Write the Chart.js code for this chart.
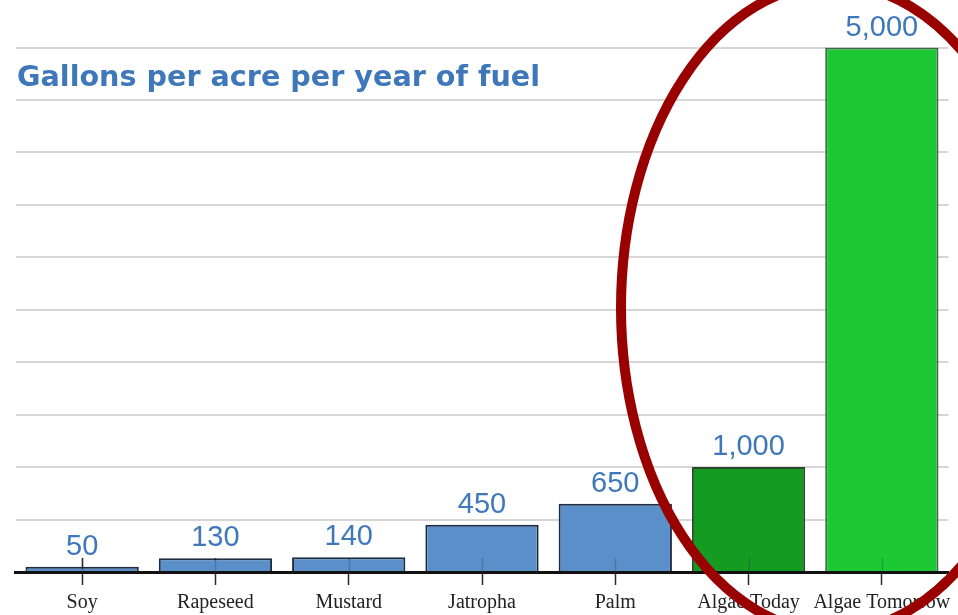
<!DOCTYPE html>
<html>
<head>
<meta charset="utf-8">
<script src="https://cdn.jsdelivr.net/npm/chart.js@4/dist/chart.umd.min.js"></script>
<style>
  html, body { margin: 0; padding: 0; background: #ffffff; }
  #wrap { width: 958px; height: 615px; }
</style>
</head>
<body>
<div id="wrap"><canvas id="c" width="958" height="615"></canvas></div>
<script>
// Fuel crops and their yield
const categories = ['Soy', 'Rapeseed', 'Mustard', 'Jatropha', 'Palm', 'Algae Today', 'Algae Tomorrow'];
const gallonsPerAcre = [50, 130, 140, 450, 650, 1000, 5000];
const valueLabels = ['50', '130', '140', '450', '650', '1,000', '5,000'];
const yAxisMin = 0;
const yAxisMax = 5000;
const yAxisStep = 500;

const titleText = 'Gallons per acre per year of fuel';

// styling
const barFill = ['#5b8fca', '#5b8fca', '#5b8fca', '#5b8fca', '#5b8fca', '#159a22', '#1cc934'];
const barEdge = ['#1e2c40', '#1e2c40', '#1e2c40', '#1e2c40', '#1e2c40', '#2c4a2c', '#3f6a45'];
const labelBlue = '#3f78ba';

function drawCenterTicks(chart, color) {
  const { ctx, scales: { x }, chartArea } = chart;
  ctx.save();
  ctx.strokeStyle = color;
  ctx.lineWidth = 1.5;
  categories.forEach((_, i) => {
    const px = Math.round(x.getPixelForValue(i)) + 0.5;
    ctx.beginPath();
    ctx.moveTo(px, chartArea.bottom - 14);
    ctx.lineTo(px, chartArea.bottom);
    ctx.stroke();
  });
  ctx.restore();
}

const overlay = {
  id: 'overlay',
  beforeDatasetsDraw(chart) {
    drawCenterTicks(chart, '#2a2a2a');
  },
  afterDatasetsDraw(chart) {
    // faint tick continuation through the bars
    drawCenterTicks(chart, 'rgba(20,30,40,0.22)');
    // value labels above bars
    const { ctx } = chart;
    const meta = chart.getDatasetMeta(0);
    ctx.save();
    ctx.fillStyle = labelBlue;
    ctx.font = '29px "Liberation Sans", Arial, sans-serif';
    ctx.textAlign = 'center';
    ctx.textBaseline = 'alphabetic';
    meta.data.forEach((bar, i) => {
      ctx.fillText(valueLabels[i], bar.x, bar.y - 12);
    });
    ctx.restore();
  },
  afterDraw(chart) {
    const { ctx } = chart;
    ctx.save();
    // heading inside the plot
    ctx.font = 'bold 28px "DejaVu Sans", Verdana, sans-serif';
    ctx.fillStyle = labelBlue;
    ctx.textBaseline = 'alphabetic';
    ctx.textAlign = 'left';
    const w = ctx.measureText(titleText).width;
    const target = 523;
    ctx.translate(17, 86);
    ctx.scale(target / w, 1);
    ctx.fillText(titleText, 0, 0);
    ctx.restore();

    // highlight ring around the algae bars
    ctx.save();
    ctx.strokeStyle = '#990000';
    ctx.lineWidth = 10;
    ctx.beginPath();
    ctx.ellipse(833, 308, 212, 324, 0, 0, Math.PI * 2);
    ctx.stroke();
    ctx.restore();
  }
};

new Chart(document.getElementById('c'), {
  type: 'bar',
  data: {
    labels: categories,
    datasets: [{
      data: gallonsPerAcre,
      backgroundColor: barFill,
      borderColor: barEdge,
      borderWidth: 2,
      borderSkipped: 'bottom',
      barPercentage: 0.85,
      categoryPercentage: 1.0
    }]
  },
  options: {
    responsive: false,
    animation: false,
    devicePixelRatio: 1,
    layout: { padding: { left: 15.5, right: 9.5, top: 47.5, bottom: 0 } },
    plugins: { legend: { display: false }, tooltip: { enabled: false }, title: { display: false } },
    scales: {
      x: {
        grid: { drawOnChartArea: false, drawTicks: true, tickLength: 13, tickColor: '#2a2a2a', tickWidth: 1.5, offset: false },
        border: { display: true, color: '#111111', width: 3 },
        ticks: {
          color: '#222222',
          font: { family: '"Liberation Serif", "Times New Roman", serif', size: 20 },
          padding: 6,
          maxRotation: 0,
          autoSkip: false
        },
        afterFit(scale) { scale.height = 43; }
      },
      y: {
        min: yAxisMin,
        max: yAxisMax,
        ticks: { display: false, stepSize: yAxisStep },
        grid: { color: '#d6d6d6', lineWidth: 2, drawTicks: false },
        border: { display: false },
        afterFit(scale) { scale.width = 0; }
      }
    }
  },
  plugins: [overlay]
});
</script>
</body>
</html>
